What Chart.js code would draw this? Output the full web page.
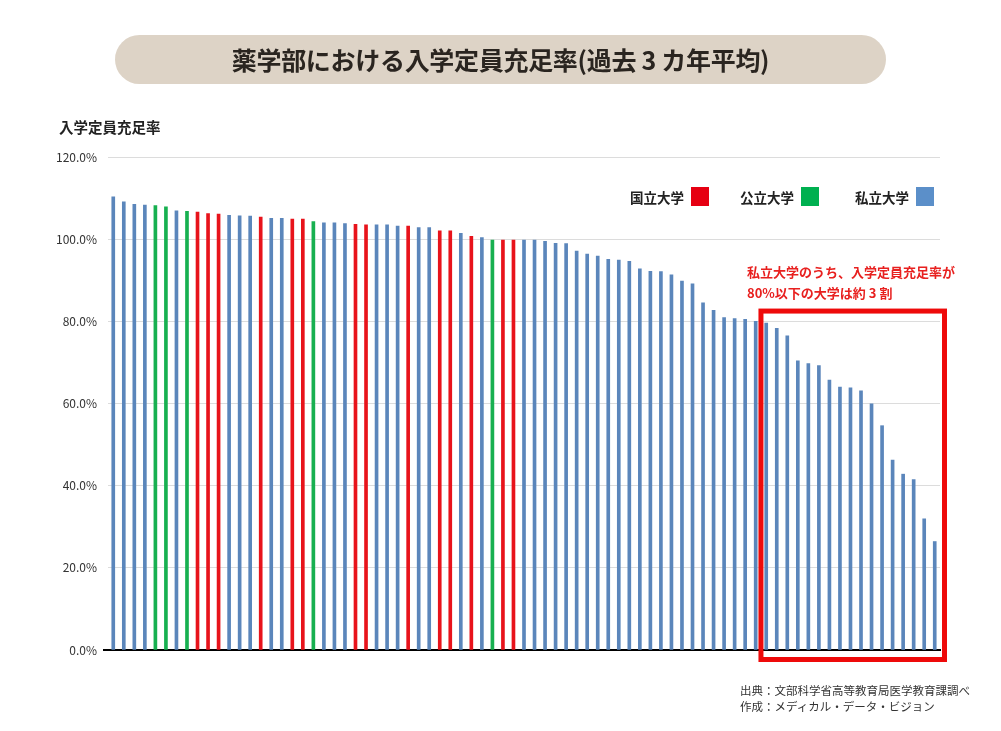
<!DOCTYPE html>
<html lang="ja">
<head>
<meta charset="utf-8">
<title>薬学部における入学定員充足率</title>
<script src="https://cdn.jsdelivr.net/npm/chart.js@4.4.1/dist/chart.umd.min.js"></script>
<style>
  html, body { margin: 0; padding: 0; background: #fff; }
  body { width: 1001px; height: 731px; position: relative; overflow: hidden;
         font-family: "Noto Sans CJK JP", "Noto Sans", sans-serif; color: #222; }
  #wrap { position: absolute; left: 0; top: 0; width: 1001px; height: 731px; }
  .title { position: absolute; left: 115px; top: 35px; width: 771px; height: 49px;
           border-radius: 25px; background: #ddd3c6; text-align: center;
           font-size: 25px; font-weight: 700; line-height: 49px; color: #2a2520; letter-spacing: -0.3px; }
  .ytitle { position: absolute; left: 59px; top: 116px; font-size: 14.5px; font-weight: 700; color: #222; }
  .legend { position: absolute; top: 187px; height: 19px; display: flex; align-items: center;
            font-size: 13.5px; font-weight: 700; color: #222; }
  .legend span.box { display: inline-block; width: 18px; height: 19px; margin-left: 7px; }
  .note { position: absolute; left: 747px; top: 261px; font-size: 13px; font-weight: 700;
          color: #e8201f; line-height: 21px; white-space: nowrap; }
  .source { position: absolute; left: 740px; top: 682px; font-size: 11.5px; color: #333;
            line-height: 16px; white-space: nowrap; }
</style>
</head>
<body>
<div id="wrap"><canvas id="chart" width="1001" height="731"></canvas></div>
<div class="title">薬学部における入学定員充足率(過去 3 カ年平均)</div>
<div class="ytitle">入学定員充足率</div>
<div class="legend" style="left:630px">国立大学<span class="box" style="background:#e60012"></span></div>
<div class="legend" style="left:740px">公立大学<span class="box" style="background:#00b050"></span></div>
<div class="legend" style="left:855px">私立大学<span class="box" style="background:#5b8fc9"></span></div>
<div class="note">私立大学のうち、入学定員充足率が<br>80%以下の大学は約 3 割</div>
<div class="source">出典：文部科学省高等教育局医学教育課調べ<br>作成：メディカル・データ・ビジョン</div>
<script>
// N = 国立, P = 公立, S = 私立 (sorted by rate, descending)
const types = [
  'S','S','S','S','P','P','S','P','N','N',
  'N','S','S','S','N','S','S','N','N','P',
  'S','S','S','N','N','S','S','S','N','S',
  'S','N','N','S','N','S','P','N','N','S',
  'S','S','S','S','S','S','S','S','S','S',
  'S','S','S','S','S','S','S','S','S','S',
  'S','S','S','S','S','S','S','S','S','S',
  'S','S','S','S','S','S','S','S','S'
];

// 入学定員充足率 (%)
const rates = [
  110.3, 109.1, 108.5, 108.3, 108.2, 107.9, 106.9, 106.8, 106.6, 106.2,
  106.1, 105.8, 105.7, 105.6, 105.4, 105.1, 105.1, 104.9, 104.9, 104.3,
  104.0, 104.0, 103.8, 103.6, 103.5, 103.5, 103.5, 103.2, 103.2, 102.8,
  102.8, 102.0, 102.0, 101.4, 100.7, 100.4, 99.8, 99.8, 99.8, 99.8,
  99.8, 99.5, 99.0, 98.9, 97.1, 96.4, 95.9, 95.1, 94.9, 94.6,
  92.8, 92.2, 92.1, 91.3, 89.8, 89.1, 84.5, 82.7, 80.9, 80.7,
  80.5, 80.0, 79.6, 78.3, 76.5, 70.4, 69.7, 69.2, 65.7, 64.0,
  63.8, 63.1, 59.9, 54.6, 46.2, 42.8, 41.5, 31.9, 26.4
];

const yTicks = [0, 20, 40, 60, 80, 100, 120];

const typeColors = { N: '#e8131b', P: '#17b050', S: '#5b86bb' };

// 強調枠: 80%未満の私立大学 (index 62 以降)
const boxFrom = 62;
const boxTop = 82.5;

const labels = rates.map((v, i) => String(i + 1));

const highlightBox = {
    id: 'highlightBox',
    afterDatasetsDraw(chart) {
        const x = chart.scales.x;
        const y = chart.scales.y;
        const ctx = chart.ctx;
        // 横軸の線を少し左まで延ばす
        ctx.save();
        ctx.strokeStyle = '#000';
        ctx.lineWidth = 2;
        ctx.beginPath();
        ctx.moveTo(x.left - 5, y.bottom);
        ctx.lineTo(x.left, y.bottom);
        ctx.stroke();

        const left = x.getPixelForValue(boxFrom - 0.5);
        const right = x.right + 4.5;
        const top = y.getPixelForValue(boxTop);
        const bottom = y.bottom + 9.5;
        ctx.strokeStyle = '#ee0a0a';
        ctx.lineWidth = 5;
        ctx.strokeRect(left, top, right - left, bottom - top);
        ctx.restore();
    }
};

new Chart(document.getElementById('chart'), {
    type: 'bar',
    data: {
        labels: labels,
        datasets: [{
            data: rates,
            backgroundColor: types.map(t => typeColors[t]),
            barThickness: 3
        }]
    },
    options: {
        responsive: false,
        animation: false,
        layout: { padding: { top: 157, right: 61, bottom: 81, left: 0 } },
        plugins: {
            legend: { display: false },
            tooltip: { enabled: false }
        },
        scales: {
            x: {
                offset: true,
                ticks: { display: false },
                grid: { display: false, drawTicks: false },
                border: { display: true, color: '#000', width: 2 },
                afterFit: function(scale) { scale.height = 0; }
            },
            y: {
                min: 0,
                max: 120,
                afterBuildTicks: function(scale) {
                    scale.ticks = yTicks.map(v => ({ value: v }));
                },
                ticks: {
                    padding: 11,
                    color: '#333',
                    font: { family: '"Noto Sans CJK JP", "Noto Sans", sans-serif', size: 12 },
                    callback: function(value) { return value.toFixed(1) + '%'; }
                },
                grid: {
                    drawTicks: false,
                    lineWidth: 1,
                    color: function(c) { return c.tick && c.tick.value === 0 ? 'rgba(0,0,0,0)' : '#dcdcdc'; }
                },
                border: { display: false },
                afterFit: function(scale) { scale.width = 108; }
            }
        }
    },
    plugins: [highlightBox]
});
</script>
</body>
</html>
